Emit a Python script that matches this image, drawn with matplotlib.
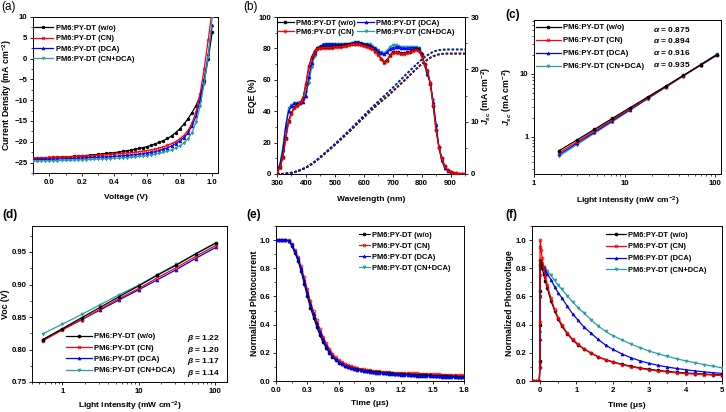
import matplotlib
matplotlib.use("Agg")
import matplotlib.pyplot as plt
from matplotlib.ticker import MultipleLocator, FixedLocator, NullFormatter, FuncFormatter

plt.rcParams.update({
    "font.family": ["Liberation Sans", "DejaVu Sans"],
    "font.weight": "bold",
    "axes.labelweight": "bold",
    "font.size": 5.6,
    "mathtext.fontset": "custom",
    "mathtext.rm": "Liberation Sans:bold",
    "mathtext.bf": "Liberation Sans:bold",
    "mathtext.it": "Liberation Sans:bold:italic",
    "mathtext.default": "rm",
    "axes.linewidth": 0.7,
})

LABELS = ["PM6:PY-DT (w/o)", "PM6:PY-DT (CN)", "PM6:PY-DT (DCA)", "PM6:PY-DT (CN+DCA)"]
COLORS = ["#000000", "#FF0000", "#0000FF", "#26A0A0"]
MARKERS = ["o", "o", "^", "v"]
FILLS = ["#000000", "none", "#0000FF", "#26A0A0"]
TICK_FS, XLAB_FS, YLAB_FS, LEG_FS, NOTE_FS = 5.6, 6.0, 6.3, 5.4, 6.0

# (a) J-V
volt = [-0.1, -0.075, -0.05, -0.025, 0.0, 0.025, 0.05, 0.075, 0.1, 0.125, 0.15, 0.175, 0.2,
        0.225, 0.25, 0.275, 0.3, 0.325, 0.35, 0.375, 0.4, 0.425, 0.45, 0.475, 0.5, 0.525, 0.55,
        0.575, 0.6, 0.625, 0.65, 0.675, 0.7, 0.725, 0.75, 0.775, 0.8, 0.825, 0.85, 0.875, 0.9,
        0.925, 0.95, 0.975, 1.0]
j_wo = [-24.0, -23.95, -23.9, -23.85, -23.8, -23.75, -23.7, -23.65, -23.6, -23.55, -23.5, -23.45,
        -23.4, -23.3, -23.2, -23.1, -23.0, -22.9, -22.8, -22.7, -22.6, -22.45, -22.3, -22.15, -22.0,
        -21.8, -21.6, -21.4, -21.15, -20.85, -20.5, -20.1, -19.7, -19.2, -18.6, -17.8, -16.9, -15.8,
        -14.5, -13.0, -11.3, -9.0, -5.5, 0.0, 6.5]
j_cn = [-23.9, -23.87, -23.84, -23.8, -23.77, -23.74, -23.71, -23.68, -23.65, -23.6, -23.55, -23.5,
        -23.45, -23.4, -23.35, -23.3, -23.2, -23.15, -23.1, -23.0, -22.95, -22.85, -22.8, -22.7, -22.6,
        -22.5, -22.4, -22.25, -22.1, -21.95, -21.75, -21.5, -21.2, -20.85, -20.45, -19.95, -19.3, -18.5,
        -17.3, -15.6, -12.8, -8.5, -2.5, 4.5, 12.0]
j_dca = [-24.3, -24.27, -24.24, -24.21, -24.18, -24.15, -24.12, -24.09, -24.06, -24.02, -23.98, -23.94,
         -23.9, -23.86, -23.82, -23.77, -23.72, -23.67, -23.62, -23.56, -23.5, -23.43, -23.36, -23.28,
         -23.2, -23.1, -23.0, -22.85, -22.7, -22.55, -22.35, -22.1, -21.8, -21.45, -21.0, -20.45, -19.8,
         -19.0, -17.9, -16.2, -13.8, -10.0, -5.0, 1.0, 8.0]
j_cndca = [-24.65, -24.62, -24.6, -24.57, -24.55, -24.52, -24.5, -24.47, -24.44, -24.41, -24.38, -24.35,
           -24.32, -24.28, -24.24, -24.2, -24.16, -24.12, -24.07, -24.02, -23.97, -23.91, -23.85, -23.78,
           -23.7, -23.62, -23.53, -23.43, -23.3, -23.15, -22.98, -22.78, -22.55, -22.25, -21.9, -21.5,
           -21.0, -20.3, -19.3, -17.8, -15.3, -11.5, -6.0, 0.5, 10.0]

# (b) EQE and integrated Jsc
wl = [300, 310, 320, 330, 340, 350, 360, 370, 380, 390, 400, 410, 420, 430, 440, 450, 460, 470, 480,
      490, 500, 510, 520, 530, 540, 550, 560, 570, 580, 590, 600, 610, 620, 630, 640, 650, 660, 670,
      680, 690, 700, 710, 720, 730, 740, 750, 760, 770, 780, 790, 800, 810, 820, 830, 840, 850, 860,
      870, 880, 890, 900, 910, 920, 930, 940, 950]
eqe_wo = [0.5, 4.5, 11, 23, 34, 39, 42.5, 44, 45.5, 48.5, 57.5, 68.5, 74.5, 78.5, 80, 80.5, 81, 81,
          81, 81, 81.5, 81.5, 81.5, 82, 82, 82.5, 83, 83, 83, 82.5, 82, 81.5, 81, 80, 78.5, 76.5, 73.5,
          71.5, 72.5, 75.5, 77.5, 78, 77.5, 77, 77, 77.5, 78, 79, 79.5, 79, 75.5, 70, 65.5, 57.5, 43.5,
          28, 17, 10, 5, 2.5, 1.5, 0.8, 0.4, 0.2, 0.1, 0.1]
eqe_cn = [0.5, 4, 10, 22, 33, 38, 42, 43.5, 45, 48, 57, 68, 74, 78, 79.5, 80, 80.5, 80.5, 80.5, 80.5,
          81, 81, 81, 81.5, 81.5, 82, 82.5, 82.5, 82.5, 82, 81.5, 81, 80.5, 79.5, 78, 76, 73, 71, 72,
          75, 77, 77.5, 77, 76.5, 76.5, 77, 77.5, 78.5, 79, 78.5, 75, 70, 66, 58, 44, 28, 17, 10, 5,
          2.5, 1.5, 0.8, 0.4, 0.2, 0.1, 0.1]
eqe_dca = [1, 6, 15, 30, 40, 43, 45, 45, 45, 46, 50, 62, 71, 77, 80.5, 81.5, 82.5, 83, 83, 83, 82.5,
           82.5, 82.5, 82.5, 83, 83, 83.5, 84, 84, 83.5, 83, 82.5, 82, 81, 80, 78.5, 77, 76.5, 77.5,
           79.5, 80.5, 81, 81, 80.5, 80, 80, 80.5, 80.5, 80.5, 80, 77, 70, 64, 58, 46, 31, 17, 9, 4,
           2, 1, 0.5, 0.3, 0.2, 0.1, 0.1]
eqe_cndca = [1, 6.5, 17, 31, 42, 44, 45, 45.5, 46, 47, 52, 58, 68, 75, 79.5, 81, 82, 82.5, 82.5, 82.5,
             82.5, 82.5, 82.5, 82.5, 83, 83, 83.5, 84, 84, 83.5, 83, 83, 82.5, 81.5, 80.5, 79, 77.5,
             77, 78.5, 81, 82, 82, 81.5, 81, 81, 81, 81, 81, 81, 80, 76, 69, 63, 58, 47, 31, 16, 8,
             4, 2, 1, 0.5, 0.3, 0.2, 0.1, 0.1]
jint_cn = [0, 0.01, 0.02, 0.06, 0.12, 0.21, 0.34, 0.5, 0.7, 0.93, 1.2, 1.52, 1.88, 2.28, 2.71, 3.16,
           3.62, 4.09, 4.57, 5.06, 5.55, 6.05, 6.55, 7.06, 7.58, 8.1, 8.63, 9.17, 9.71, 10.25, 10.79,
           11.33, 11.86, 12.38, 12.89, 13.38, 13.84, 14.3, 14.77, 15.26, 15.77, 16.29, 16.81, 17.33,
           17.85, 18.38, 18.91, 19.44, 19.98, 20.51, 21.0, 21.45, 21.85, 22.2, 22.5, 22.7, 22.85,
           22.93, 22.97, 23.0, 23.0, 23.0, 23.0, 23.0, 23.0, 23.0]
jint_wo = [0, 0.01, 0.02, 0.06, 0.12, 0.22, 0.35, 0.51, 0.71, 0.94, 1.21, 1.53, 1.89, 2.29, 2.72, 3.17,
           3.63, 4.1, 4.58, 5.07, 5.56, 6.06, 6.56, 7.07, 7.59, 8.11, 8.64, 9.18, 9.72, 10.26, 10.8,
           11.34, 11.87, 12.39, 12.9, 13.39, 13.86, 14.32, 14.79, 15.28, 15.79, 16.31, 16.83, 17.35,
           17.87, 18.4, 18.93, 19.46, 20.0, 20.53, 21.02, 21.47, 21.87, 22.22, 22.52, 22.72, 22.87,
           22.95, 22.99, 23.02, 23.02, 23.02, 23.02, 23.02, 23.02, 23.02]
jint_dca = [0, 0.01, 0.03, 0.07, 0.14, 0.24, 0.38, 0.55, 0.76, 1.0, 1.28, 1.6, 1.97, 2.38, 2.82, 3.28,
            3.75, 4.23, 4.72, 5.22, 5.73, 6.24, 6.76, 7.29, 7.82, 8.36, 8.91, 9.46, 10.02, 10.58, 11.14,
            11.7, 12.25, 12.8, 13.34, 13.86, 14.36, 14.86, 15.37, 15.9, 16.44, 17.0, 17.55, 18.1,
            18.65, 19.2, 19.74, 20.28, 20.82, 21.35, 21.85, 22.3, 22.7, 23.05, 23.35, 23.55, 23.68,
            23.75, 23.78, 23.8, 23.8, 23.8, 23.8, 23.8, 23.8, 23.8]
jint_cndca = [0, 0.01, 0.03, 0.08, 0.15, 0.25, 0.39, 0.56, 0.76, 0.99, 1.26, 1.56, 1.92, 2.33, 2.78,
              3.25, 3.73, 4.22, 4.71, 5.21, 5.72, 6.23, 6.75, 7.28, 7.81, 8.35, 8.9, 9.46, 10.02, 10.58,
              11.14, 11.7, 12.26, 12.81, 13.35, 13.88, 14.39, 14.9, 15.42, 15.96, 16.51, 17.07, 17.62,
              18.17, 18.72, 19.26, 19.8, 20.34, 20.87, 21.39, 21.88, 22.32, 22.71, 23.05, 23.34, 23.54,
              23.66, 23.73, 23.76, 23.78, 23.78, 23.78, 23.78, 23.78, 23.78, 23.78]

# (c) Jsc vs light intensity
light_c = [1.9, 2.95, 4.65, 7.3, 11.4, 18.0, 28.3, 44.5, 69.5, 105]
jsc_wo = [0.60, 0.88, 1.31, 1.95, 2.88, 4.29, 6.37, 9.48, 14.0, 20.1]
jsc_cn = [0.555, 0.82, 1.24, 1.85, 2.75, 4.14, 6.21, 9.31, 13.86, 20.0]
jsc_dca = [0.52, 0.78, 1.18, 1.78, 2.68, 4.08, 6.17, 9.34, 14.07, 20.5]
jsc_cndca = [0.49, 0.74, 1.13, 1.73, 2.62, 4.01, 6.12, 9.35, 14.19, 20.9]
alphas = ["0.875", "0.894", "0.916", "0.935"]

# (d) Voc vs light intensity
light_d = [0.55, 1.0, 1.8, 3.15, 5.5, 10.1, 17.5, 31.5, 56, 103]
voc_wo = [0.815, 0.832, 0.849, 0.865, 0.881, 0.898, 0.914, 0.930, 0.947, 0.964]
voc_cn = [0.813, 0.830, 0.846, 0.862, 0.878, 0.894, 0.910, 0.926, 0.943, 0.960]
voc_dca = [0.815, 0.831, 0.846, 0.861, 0.876, 0.892, 0.907, 0.923, 0.940, 0.957]
voc_cndca = [0.824, 0.839, 0.854, 0.869, 0.884, 0.899, 0.915, 0.931, 0.947, 0.963]
betas = ["1.22", "1.20", "1.17", "1.14"]

# (e) TPC
t_e = [0.0, 0.03, 0.06, 0.09, 0.12, 0.15, 0.18, 0.21, 0.24, 0.27, 0.30, 0.33, 0.36, 0.39, 0.42, 0.45,
       0.48, 0.51, 0.54, 0.57, 0.60, 0.63, 0.66, 0.69, 0.72, 0.75, 0.78, 0.81, 0.84, 0.87, 0.90, 0.93,
       0.96, 0.99, 1.02, 1.05, 1.08, 1.11, 1.14, 1.17, 1.20, 1.23, 1.26, 1.29, 1.32, 1.35, 1.38, 1.41,
       1.44, 1.47, 1.50, 1.53, 1.56, 1.59, 1.62, 1.65, 1.68, 1.71, 1.74, 1.77, 1.80]
tpc_wo = [1.0, 1.0, 1.0, 1.0, 0.995, 0.96, 0.91, 0.855, 0.78, 0.69, 0.60, 0.52, 0.45, 0.385, 0.325,
          0.275, 0.235, 0.2, 0.17, 0.15, 0.13, 0.118, 0.108, 0.1, 0.093, 0.087, 0.082, 0.078, 0.074,
          0.071, 0.068, 0.066, 0.064, 0.062, 0.06, 0.058, 0.056, 0.054, 0.052, 0.05, 0.049, 0.048,
          0.047, 0.046, 0.045, 0.044, 0.043, 0.042, 0.041, 0.04, 0.039, 0.038, 0.037, 0.036, 0.035,
          0.034, 0.033, 0.032, 0.031, 0.031, 0.03]
tpc_cn = [1.0, 1.0, 1.0, 1.0, 0.998, 0.975, 0.93, 0.88, 0.815, 0.735, 0.65, 0.565, 0.495, 0.43, 0.37,
          0.315, 0.27, 0.23, 0.195, 0.17, 0.15, 0.135, 0.122, 0.112, 0.104, 0.097, 0.091, 0.086, 0.082,
          0.078, 0.075, 0.072, 0.07, 0.068, 0.066, 0.064, 0.062, 0.06, 0.059, 0.058, 0.057, 0.056,
          0.055, 0.054, 0.054, 0.055, 0.053, 0.052, 0.051, 0.05, 0.049, 0.048, 0.047, 0.046, 0.045,
          0.044, 0.043, 0.042, 0.041, 0.04, 0.04]
tpc_dca = [1.0, 1.0, 1.0, 1.0, 0.997, 0.97, 0.92, 0.87, 0.8, 0.715, 0.63, 0.545, 0.475, 0.41, 0.35,
           0.295, 0.25, 0.212, 0.18, 0.155, 0.135, 0.12, 0.108, 0.099, 0.091, 0.085, 0.08, 0.075,
           0.071, 0.068, 0.065, 0.062, 0.06, 0.058, 0.056, 0.054, 0.052, 0.05, 0.048, 0.047, 0.045,
           0.044, 0.043, 0.041, 0.04, 0.039, 0.038, 0.037, 0.036, 0.035, 0.034, 0.033, 0.032, 0.031,
           0.03, 0.029, 0.028, 0.027, 0.026, 0.025, 0.025]
tpc_cndca = [1.0, 1.0, 1.0, 1.0, 0.996, 0.968, 0.918, 0.866, 0.796, 0.71, 0.625, 0.54, 0.47, 0.405,
             0.345, 0.29, 0.246, 0.208, 0.177, 0.152, 0.132, 0.118, 0.106, 0.097, 0.089, 0.083, 0.078,
             0.073, 0.069, 0.066, 0.063, 0.06, 0.058, 0.056, 0.054, 0.052, 0.05, 0.048, 0.046, 0.045,
             0.043, 0.042, 0.041, 0.039, 0.038, 0.037, 0.036, 0.035, 0.034, 0.033, 0.032, 0.031,
             0.03, 0.029, 0.028, 0.027, 0.026, 0.025, 0.024, 0.023, 0.023]

# (f) TPV
t_f = [-0.2, -0.1, -0.02, 0.0, 0.0, 0.0, 0.0, 0.01, 0.03, 0.06, 0.1, 0.15, 0.2, 0.3, 0.4, 0.5, 0.6,
       0.75, 0.9, 1.05, 1.2, 1.4, 1.6, 1.8, 2.0, 2.25, 2.5, 2.75, 3.0, 3.25, 3.5, 3.75, 4.0, 4.25,
       4.5, 4.75, 5.0]
tpv_wo = [0, 0, 0, 0.14, 0.4, 0.64, 0.82, 0.86, 0.84, 0.8, 0.76, 0.71, 0.66, 0.57, 0.5, 0.44, 0.39,
          0.335, 0.29, 0.255, 0.228, 0.198, 0.172, 0.152, 0.136, 0.119, 0.105, 0.093, 0.083, 0.075,
          0.068, 0.062, 0.057, 0.053, 0.049, 0.046, 0.043]
tpv_cn = [0, 0, 0, 0.1, 0.42, 0.75, 0.95, 1.0, 0.93, 0.87, 0.81, 0.74, 0.68, 0.59, 0.51, 0.45, 0.40,
          0.34, 0.295, 0.26, 0.23, 0.2, 0.17, 0.15, 0.133, 0.116, 0.101, 0.089, 0.079, 0.071, 0.064,
          0.058, 0.053, 0.049, 0.045, 0.042, 0.039]
tpv_dca = [0, 0, 0, 0.1, 0.3, 0.6, 0.8, 0.84, 0.83, 0.82, 0.8, 0.78, 0.76, 0.72, 0.67, 0.625, 0.59,
           0.53, 0.475, 0.43, 0.385, 0.34, 0.295, 0.255, 0.225, 0.192, 0.165, 0.143, 0.125, 0.111,
           0.099, 0.089, 0.08, 0.072, 0.065, 0.059, 0.054]
tpv_cndca = [0, 0, 0, 0.12, 0.35, 0.6, 0.8, 0.84, 0.835, 0.825, 0.81, 0.795, 0.78, 0.75, 0.715, 0.68,
             0.65, 0.605, 0.56, 0.52, 0.485, 0.435, 0.39, 0.352, 0.322, 0.292, 0.262, 0.236, 0.212,
             0.193, 0.175, 0.158, 0.143, 0.13, 0.117, 0.105, 0.094]

W, H = 726, 412
fig = plt.figure(figsize=(W / 100, H / 100), dpi=100)


def axes_px(left, top, right, bottom):
    return fig.add_axes([left / W, 1 - bottom / H, (right - left) / W, (bottom - top) / H])


def style(ax):
    ax.tick_params(which="major", direction="out", length=2.5, width=0.6, labelsize=TICK_FS, pad=1.5)
    ax.tick_params(which="minor", direction="out", length=1.5, width=0.5)
    for lab in ax.get_xticklabels() + ax.get_yticklabels():
        lab.set_fontweight("bold")


def plot_set(ax, x, ys, ms=2.2, lw=0.9, order=(0, 1, 2, 3)):
    handles = [None] * 4
    for i in order:
        h, = ax.plot(x, ys[i], color=COLORS[i], lw=lw, marker=MARKERS[i], ms=ms, mfc=FILLS[i],
                     mec=COLORS[i], mew=0.6, label=LABELS[i], zorder=3 + order.index(i))
        handles[i] = h
    return handles


def legend(ax, handles, x, y, **kw):
    opts = dict(loc="upper left", bbox_to_anchor=(x, y), frameon=False, borderaxespad=0,
                borderpad=0, handlelength=2.6, handletextpad=0.5, labelspacing=0.4,
                prop={"weight": "bold", "size": LEG_FS})
    opts.update(kw)
    return ax.legend(handles, LABELS, **opts)


def labels(ax, xl, yl, xy, yx):
    # xy / yx: label centre offsets in axes fraction
    ax.set_xlabel(xl, fontsize=XLAB_FS)
    ax.set_ylabel(yl, fontsize=YLAB_FS)
    ax.xaxis.set_label_coords(0.5, xy)
    ax.yaxis.set_label_coords(yx, 0.5)
    ax.xaxis.label.set_va("center")
    ax.yaxis.label.set_va("center")


def panel_label(x, y, s, bold=True):
    fig.text(x / W, 1 - y / H, s, fontsize=8.5, fontweight="bold" if bold else "normal",
             va="center", ha="left")


decade_fmt = FuncFormatter(lambda v, p: f"{v:g}")
one_dec = FuncFormatter(lambda v, p: f"{v:.1f}")
JSC = "$\\mathit{J}_{\\mathit{sc}}$ (mA cm$^{-2}$)"

# ---- (a)
ax = axes_px(33, 17, 218, 173)
hs = plot_set(ax, volt, [j_wo, j_cn, j_dca, j_cndca], ms=1.8)
ax.set_xlim(-0.1, 1.035)
ax.set_ylim(-27.5, 10)
ax.xaxis.set_major_locator(MultipleLocator(0.2))
ax.xaxis.set_minor_locator(MultipleLocator(0.1))
ax.yaxis.set_major_locator(MultipleLocator(5))
ax.yaxis.set_minor_locator(MultipleLocator(2.5))
ax.xaxis.set_major_formatter(one_dec)
labels(ax, "Voltage (V)", "Current Density (mA cm$^{-2}$)", -0.154, -0.14)
style(ax)
legend(ax, hs, 0.0, 0.95)
panel_label(1, 7, "(a)", bold=False)

# ---- (b)
ax = axes_px(277, 17, 465, 174)
ax2 = ax.twinx()
for ys, c in [(jint_cndca, COLORS[3]), (jint_wo, COLORS[0]), (jint_cn, "#6A0F2A"), (jint_dca, "#1A1A9A")]:
    ax2.plot(wl, ys, color=c, lw=1.3, ls=(0, (1.4, 1.0)))
ax2.set_ylim(0, 30)
ax2.yaxis.set_major_locator(MultipleLocator(10))
ax2.yaxis.set_minor_locator(MultipleLocator(5))
ax2.set_ylabel(JSC, fontsize=YLAB_FS)
ax2.yaxis.set_label_coords(1.115, 0.5)
ax2.yaxis.label.set_va("center")
style(ax2)
ax.set_zorder(ax2.get_zorder() + 1)
ax.patch.set_visible(False)
hs = plot_set(ax, wl, [eqe_wo, eqe_cn, eqe_dca, eqe_cndca], ms=2.0, lw=0.9, order=(3, 2, 0, 1))
ax.set_xlim(300, 950)
ax.set_ylim(0, 100)
ax.xaxis.set_major_locator(MultipleLocator(100))
ax.xaxis.set_minor_locator(MultipleLocator(50))
ax.yaxis.set_major_locator(MultipleLocator(20))
ax.yaxis.set_minor_locator(MultipleLocator(10))
labels(ax, "Wavelength (nm)", "EQE (%)", -0.16, -0.13)
style(ax)
legend(ax, hs, 0.0, 0.985, ncol=2, columnspacing=0.2, handlelength=2.2, handletextpad=0.35,
       labelspacing=0.3)
panel_label(243, 7, "(b)", bold=False)

# ---- (c)
ax = axes_px(534, 20, 721, 174)
hs = plot_set(ax, light_c, [jsc_wo, jsc_cn, jsc_dca, jsc_cndca], ms=2.0, order=(3, 2, 1, 0))
ax.set_xscale("log")
ax.set_yscale("log")
ax.set_xlim(1, 116)
ax.set_ylim(0.254, 72.6)
ax.xaxis.set_major_formatter(decade_fmt)
ax.yaxis.set_major_formatter(decade_fmt)
ax.xaxis.set_minor_formatter(NullFormatter())
ax.yaxis.set_minor_formatter(NullFormatter())
labels(ax, "Light intensity (mW cm$^{-2}$)", JSC, -0.175, -0.145)
style(ax)
legend(ax, hs, 0.01, 0.975, labelspacing=0.72, handlelength=3.2, handletextpad=0.3,
       prop={"weight": "bold", "size": 5.6})
for k, a in enumerate(alphas):
    ax.text(0.635, 0.94 - k * 0.076, f"$\\mathit{{\\alpha}}$ = {a}", transform=ax.transAxes,
            fontsize=NOTE_FS, va="center", ha="left")
panel_label(505, 15, "(c)")

# ---- (d)
ax = axes_px(32, 226, 227, 382)
hs = plot_set(ax, light_d, [voc_wo, voc_cn, voc_dca, voc_cndca], ms=2.0, order=(3, 2, 1, 0))
ax.set_xscale("log")
ax.set_xlim(0.4, 145)
ax.set_ylim(0.75, 0.99)
ax.xaxis.set_major_formatter(decade_fmt)
ax.xaxis.set_minor_formatter(NullFormatter())
ax.yaxis.set_major_locator(MultipleLocator(0.05))
ax.yaxis.set_minor_locator(MultipleLocator(0.025))
ax.yaxis.set_major_formatter(FuncFormatter(lambda v, p: f"{v:.2f}"))
labels(ax, "Light intensity (mW cm$^{-2}$)", "Voc (V)", -0.154, -0.135)
style(ax)
legend(ax, hs, 0.175, 0.315, labelspacing=0.5, handlelength=3.3, handletextpad=0.3,
       prop={"weight": "bold", "size": 5.6})
for k, b in enumerate(betas):
    ax.text(0.965, 0.28 - k * 0.075, f"$\\mathit{{\\beta}}$ = {b}", transform=ax.transAxes,
            fontsize=NOTE_FS, va="center", ha="right")
panel_label(2, 215, "(d)")

# ---- (e)
ax = axes_px(276, 226, 464, 381)
hs = plot_set(ax, t_e, [tpc_wo, tpc_cn, tpc_dca, tpc_cndca], ms=2.0, lw=0.8, order=(3, 1, 0, 2))
ax.set_xlim(0, 1.8)
ax.set_ylim(0, 1.1)
ax.xaxis.set_major_locator(MultipleLocator(0.3))
ax.xaxis.set_minor_locator(MultipleLocator(0.15))
ax.yaxis.set_major_locator(FixedLocator([0, 0.2, 0.4, 0.6, 0.8, 1.0]))
ax.yaxis.set_minor_locator(MultipleLocator(0.1))
ax.xaxis.set_major_formatter(one_dec)
ax.yaxis.set_major_formatter(one_dec)
labels(ax, "Time (\u03bcs)", "Normalized Photocurrent", -0.148, -0.117)
style(ax)
legend(ax, hs, 0.44, 0.965, handlelength=1.5, handletextpad=0.3, labelspacing=0.5)
panel_label(246, 215, "(e)")

# ---- (f)
ax = axes_px(532, 226, 722, 381)
hs = plot_set(ax, t_f, [tpv_wo, tpv_cn, tpv_dca, tpv_cndca], ms=2.0, lw=0.9, order=(3, 2, 0, 1))
ax.set_xlim(-0.22, 5)
ax.set_ylim(0, 1.1)
ax.xaxis.set_major_locator(MultipleLocator(1))
ax.xaxis.set_minor_locator(MultipleLocator(0.5))
ax.yaxis.set_major_locator(FixedLocator([0, 0.2, 0.4, 0.6, 0.8, 1.0]))
ax.yaxis.set_minor_locator(MultipleLocator(0.1))
ax.yaxis.set_major_formatter(one_dec)
labels(ax, "Time (\u03bcs)", "Normalized Photovoltage", -0.155, -0.116)
style(ax)
legend(ax, hs, 0.39, 0.965, handlelength=2.6, handletextpad=0.3, labelspacing=0.6)
panel_label(505, 215, "(f)")

fig.savefig("out.png", dpi=100, facecolor="white")
